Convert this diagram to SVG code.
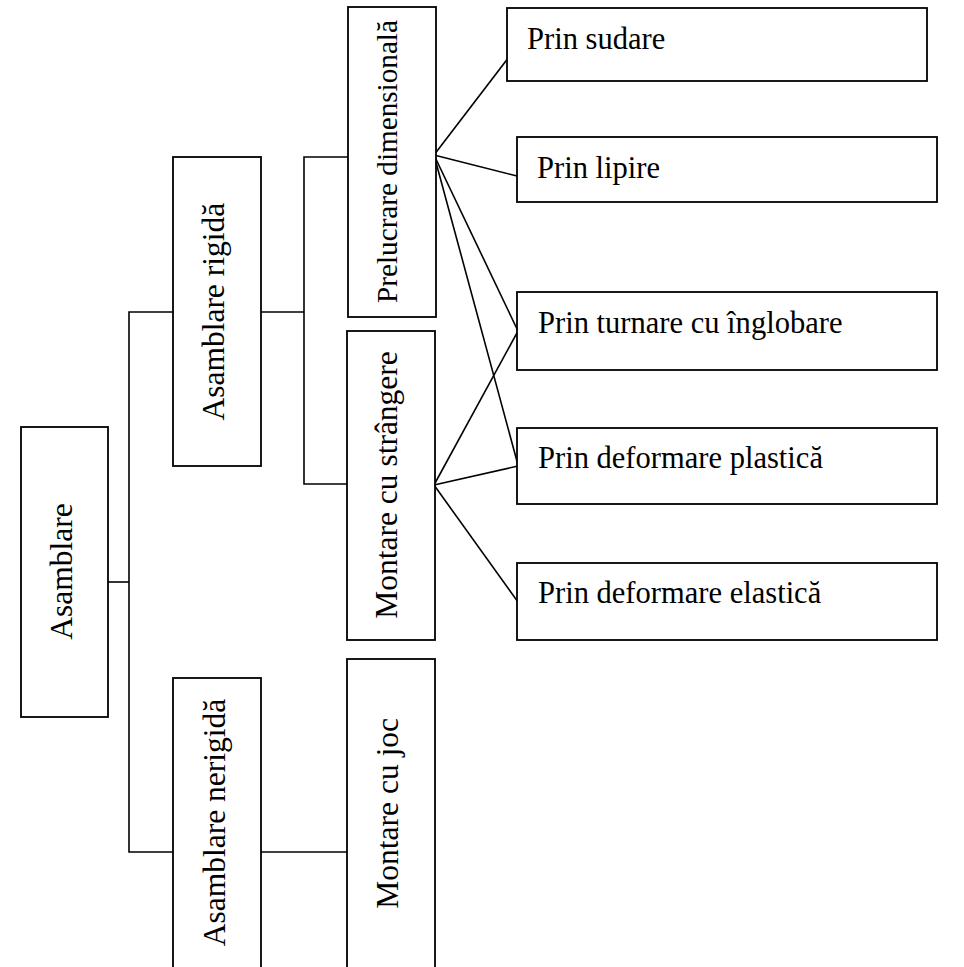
<svg xmlns="http://www.w3.org/2000/svg" width="964" height="967" viewBox="0 0 964 967">
<style>
.box{fill:#fff;stroke:#000;stroke-width:1.8}
.ln{fill:none;stroke:#000;stroke-width:1.6}
.vt{font-family:"Liberation Serif","Times New Roman",serif;font-size:31.5px;fill:#000;text-anchor:middle}
.ht{font-family:"Liberation Serif","Times New Roman",serif;font-size:32.5px;fill:#000}
</style>
<rect x="0" y="0" width="964" height="967" fill="#fff"/>
<g id="connectors">
<polyline class="ln" points="108,582 129,582"/>
<polyline class="ln" points="173,312 129,312 129,852 173,852"/>
<polyline class="ln" points="261,312 304,312"/>
<polyline class="ln" points="348,157 304,157 304,484 347,484"/>
<polyline class="ln" points="261,852 347,852"/>
<line class="ln" x1="434" y1="155" x2="522" y2="40"/>
<line class="ln" x1="434" y1="155" x2="517" y2="176"/>
<line class="ln" x1="434" y1="155" x2="518" y2="331"/>
<line class="ln" x1="434" y1="155" x2="518" y2="465"/>
<line class="ln" x1="434" y1="485" x2="518" y2="331"/>
<line class="ln" x1="434" y1="485" x2="518" y2="466"/>
<line class="ln" x1="434" y1="485" x2="518" y2="602"/>
</g>
<g id="asamblare">
<rect class="box" x="21" y="427" width="87" height="290"/>
<text class="vt" transform="translate(72,571.5) rotate(-90)">Asamblare</text>
</g>
<g id="asamblare-rigida">
<rect class="box" x="173" y="157" width="88" height="309"/>
<text class="vt" transform="translate(224,311.7) rotate(-90)">Asamblare rigidă</text>
</g>
<g id="asamblare-nerigida">
<rect class="box" x="173" y="678" width="88" height="310"/>
<text class="vt" transform="translate(225,822.5) rotate(-90)">Asamblare nerigidă</text>
</g>
<g id="prelucrare">
<rect class="box" x="348" y="7" width="88" height="310"/>
<text class="vt" style="font-size:29.2px" transform="translate(397,161.5) rotate(-90)">Prelucrare dimensională</text>
</g>
<g id="montare-strangere">
<rect class="box" x="347" y="331" width="88" height="309"/>
<text class="vt" transform="translate(397,485) rotate(-90)">Montare cu strângere</text>
</g>
<g id="montare-joc">
<rect class="box" x="347" y="659" width="88" height="330"/>
<text class="vt" transform="translate(398,813.3) rotate(-90)">Montare cu joc</text>
</g>
<g id="prin-sudare">
<rect class="box" x="507" y="8" width="420" height="73"/>
<text class="ht" transform="translate(527,49) scale(0.94,1)">Prin sudare</text>
</g>
<g id="prin-lipire">
<rect class="box" x="517" y="137" width="420" height="65"/>
<text class="ht" transform="translate(537,178) scale(0.94,1)">Prin lipire</text>
</g>
<g id="prin-turnare">
<rect class="box" x="517" y="292" width="420" height="78"/>
<text class="ht" transform="translate(538,332.5) scale(0.94,1)">Prin turnare cu înglobare</text>
</g>
<g id="prin-deformare-plastica">
<rect class="box" x="517" y="428" width="420" height="76"/>
<text class="ht" transform="translate(538,468) scale(0.94,1)">Prin deformare plastică</text>
</g>
<g id="prin-deformare-elastica">
<rect class="box" x="517" y="563" width="420" height="77"/>
<text class="ht" transform="translate(538,603) scale(0.94,1)">Prin deformare elastică</text>
</g>
</svg>
